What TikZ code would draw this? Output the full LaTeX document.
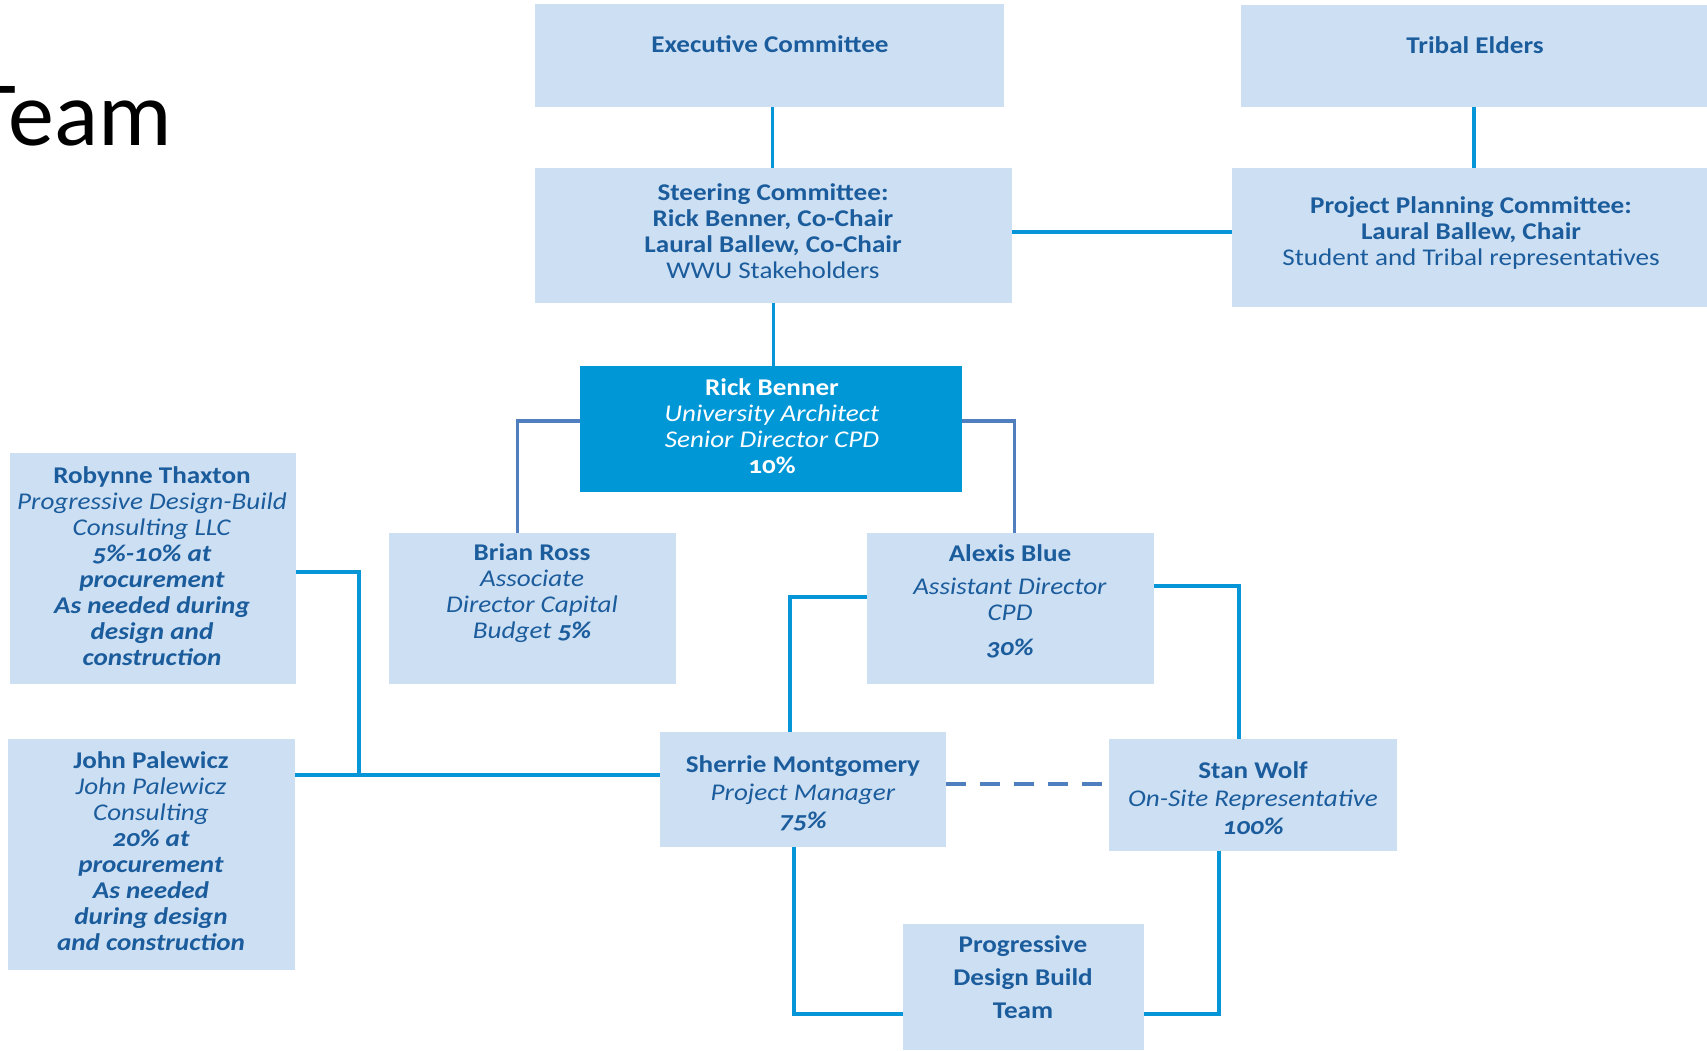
\documentclass[tikz,border=0pt]{standalone}
\usepackage{fontspec}
\setmainfont{Carlito}[Numbers=OldStyle, FakeStretch=1.13]
\newfontfamily\titlefont{Carlito}
\definecolor{boxfill}{HTML}{CDDFF3}
\definecolor{textblue}{HTML}{1B5C9C}
\definecolor{linecol}{HTML}{0696D8}
\definecolor{steel}{HTML}{4F7FBE}
\definecolor{rickfill}{HTML}{0097D7}
\begin{document}
\begin{tikzpicture}[x=1pt,y=-1pt,
  box/.style={rectangle, fill=boxfill, draw=none, inner sep=0pt},
  txt/.style={text=textblue, align=center, inner sep=0pt, font=\fontsize{24}{26}\selectfont},
  conn/.style={draw=linecol, line width=3.6pt},
  conn2/.style={draw=steel, line width=3.6pt},
  dashconn/.style={draw=steel, line width=3.6pt, dash pattern=on 20pt off 14pt}]
\useasboundingbox (0,0) rectangle (1707,1050);
\clip (0,0) rectangle (1707,1050);

% title
\node[anchor=base east, inner sep=0pt, font=\titlefont\fontsize{92}{92}\selectfont] (title) at (172,145) {Team};

% boxes
\node[box, minimum width=469pt, minimum height=103pt] (exec) at (769.5,55.5) {};
\node[box, minimum width=477pt, minimum height=135pt] (steer) at (773.5,235.5) {};
\node[box, minimum width=466pt, minimum height=102pt] (tribal) at (1474,56) {};
\node[box, minimum width=475pt, minimum height=139pt] (ppc) at (1469.5,237.5) {};
\node[rectangle, fill=rickfill, inner sep=0pt, minimum width=382pt, minimum height=126pt] (rick) at (771,429) {};
\node[box, minimum width=286pt, minimum height=231pt] (robynne) at (153,568.5) {};
\node[box, minimum width=287pt, minimum height=151pt] (brian) at (532.5,608.5) {};
\node[box, minimum width=287pt, minimum height=151pt] (alexis) at (1010.5,608.5) {};
\node[box, minimum width=287pt, minimum height=231pt] (john) at (151.5,854.5) {};
\node[box, minimum width=286pt, minimum height=115pt] (sherrie) at (803,789.5) {};
\node[box, minimum width=288pt, minimum height=112pt] (stan) at (1253,795) {};
\node[box, minimum width=241pt, minimum height=126pt] (pdb) at (1023.5,987) {};

% connectors
\draw[conn] ([xshift=3pt]exec.south) -- ([xshift=3pt]exec.south |- steer.north);
\draw[conn] ([yshift=3.5pt]steer.east) -- ([yshift=3.5pt]steer.east -| ppc.west);
\draw[conn] (tribal.south) -- (tribal.south |- ppc.north);
\draw[conn] (steer.south) -- (steer.south |- rick.north);
\draw[conn2] ([yshift=8pt]rick.west) -| ([xshift=-15pt]brian.north);
\draw[conn2] ([yshift=8pt]rick.east) -| ([xshift=4pt]alexis.north);
\draw[conn] ([yshift=11.5pt]alexis.west) -| ([xshift=-13pt]sherrie.north);
\draw[conn] ([yshift=22.5pt]alexis.east) -| ([xshift=-14pt]stan.north);
\coordinate (jn) at (359,775);
\draw[conn] ([yshift=-3.5pt]robynne.east) -| (jn);
\draw[conn] (john.east |- jn) -- (sherrie.west |- jn);
\draw[dashconn] ([yshift=5.5pt]sherrie.east) -- ([yshift=5.5pt]sherrie.east -| stan.west);
\draw[conn] ([xshift=-9pt]sherrie.south) |- ([yshift=-27pt]pdb.west);
\draw[conn] ([xshift=-34pt]stan.south) |- ([yshift=-27pt]pdb.east);

% texts
\node[txt] (exec-t) at (770,44) {\textbf{Executive Committee}};
\node[txt] (tribal-t) at (1475,45) {\textbf{Tribal Elders}};
\node[txt] (steer-t) at (773,231) {\textbf{Steering Committee:}\\\textbf{Rick Benner, Co-Chair}\\\textbf{Laural Ballew, Co-Chair}\\WWU Stakeholders};
\node[txt] (ppc-t) at (1471,233) {\textbf{Project Planning Committee:}\\\textbf{Laural Ballew, Chair}\\Student and Tribal representatives};
\node[txt, text=white] (rick-t) at (772,426.5) {\textbf{Rick Benner}\\\textit{University Architect}\\\textit{Senior Director CPD}\\\textbf{10\%}};
\node[txt] (robynne-t) at (152,566) {\textbf{Robynne Thaxton}\\\textit{Progressive Design-Build}\\\textit{Consulting LLC}\\\textbf{\textit{5\%-10\% at}}\\\textbf{\textit{procurement}}\\\textbf{\textit{As needed during}}\\\textbf{\textit{design and}}\\\textbf{\textit{construction}}};
\node[txt] (brian-t) at (532,593.5) {\textbf{Brian Ross}\\\textit{Associate}\\\textit{Director Capital}\\\textit{Budget \textbf{5\%}}};
\node[txt] (alexis-t) at (1010,601) {\textbf{Alexis Blue}\\[7pt]\textit{Assistant Director}\\\textit{CPD}\\[9pt]\textbf{\textit{30\%}}};
\node[txt] (john-t) at (151,851.5) {\textbf{John Palewicz}\\\textit{John Palewicz}\\\textit{Consulting}\\\textbf{\textit{20\% at}}\\\textbf{\textit{procurement}}\\\textbf{\textit{As needed}}\\\textbf{\textit{during design}}\\\textbf{\textit{and construction}}};
\node[txt] (sherrie-t) at (803,793) {\textbf{Sherrie Montgomery}\\[2pt]\textit{Project Manager}\\[2pt]\textbf{\textit{75\%}}};
\node[txt] (stan-t) at (1253,798.5) {\textbf{Stan Wolf}\\[2pt]\textit{On-Site Representative}\\[2pt]\textbf{\textit{100\%}}};
\node[txt] (pdb-t) at (1023,977) {\textbf{Progressive}\\[7pt]\textbf{Design Build}\\[7pt]\textbf{Team}};
\end{tikzpicture}
\end{document}
